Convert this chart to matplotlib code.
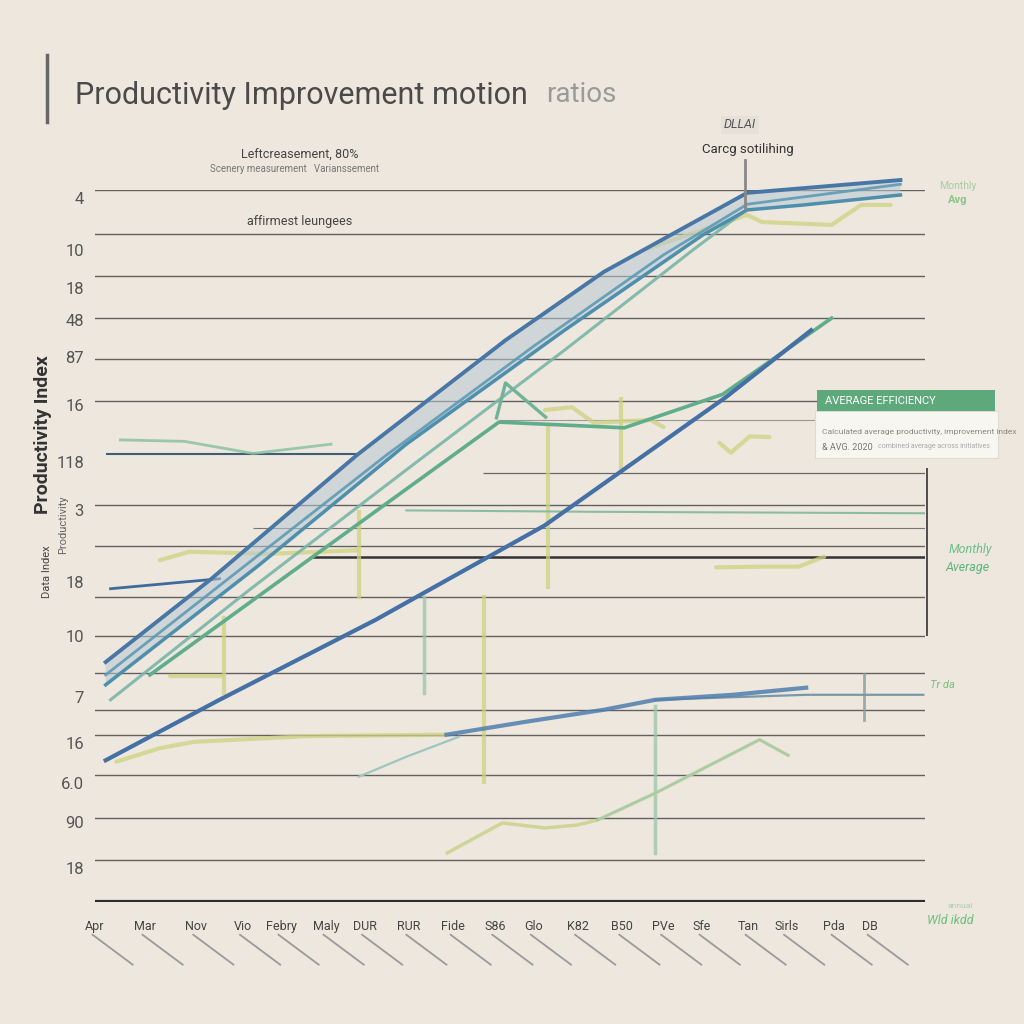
import matplotlib
matplotlib.use("Agg")
import matplotlib.pyplot as plt
from matplotlib import font_manager as fm
from matplotlib.patches import Rectangle

names = {f.name for f in fm.fontManager.ttflist}
NARROW = "Liberation Sans Narrow" if "Liberation Sans Narrow" in names else "Roboto"
plt.rcParams["font.family"] = [NARROW, "DejaVu Sans"]

# ---------------- data ----------------
title_main = "Productivity Improvement motion"
title_tail = "ratios"

x_labels = ["Apr", "Mar", "Nov", "Vio", "Febry", "Maly", "DUR", "RUR", "Fide", "S86",
            "Glo", "K82", "B50", "PVe", "Sfe", "Tan", "Sirls", "Pda", "DB"]
x_pos = [-1.3, 4.8, 11.0, 16.7, 21.4, 26.9, 31.6, 37.0, 42.4, 47.5,
         52.2, 57.6, 63.0, 68.1, 72.8, 78.4, 83.1, 88.9, 93.3]

y_labels = ["4", "10", "18", "48", "87", "16", "118", "3", "18", "10", "7", "16", "6.0", "90", "18"]
y_pos = [98.9, 91.6, 86.2, 81.7, 76.5, 69.8, 61.8, 55.1, 44.9, 37.4, 28.8, 22.3, 16.7, 11.2, 4.8]

grid_levels = [100, 93.8, 87.9, 82.0, 76.3, 70.4, 55.8, 50.0, 42.8, 37.4, 32.2, 27.0, 23.5, 17.8, 11.8, 5.9]

# band of main trend lines
band_top_x = [0, 12.7, 30.7, 48.8, 60.8, 78.3, 97.0]
band_top_y = [33.7, 45.2, 62.8, 78.9, 88.5, 99.6, 101.4]
band_low_x = [0, 18.7, 36.7, 56.0, 72.9, 78.3, 85.2, 97.0]
band_low_y = [30.5, 47.3, 64.3, 80.3, 93.7, 97.2, 97.9, 99.3]
mid1_x = [0, 16.3, 34.3, 52.4, 68.1, 78.3, 97.0]
mid1_y = [31.9, 46.6, 62.8, 78.2, 90.9, 98.0, 100.8]
mid2_x = [0.6, 17.5, 36.7, 56.0, 71.7, 78.3]
mid2_y = [28.4, 43.8, 60.7, 77.5, 91.6, 97.3]

yellow_top_x = [65.7, 78.3, 80.1, 88.6, 92.2, 95.8]
yellow_top_y = [91.6, 96.5, 95.5, 95.1, 97.9, 97.9]

hump_x = [5.4, 24.7, 48.0, 63.3, 75.3, 88.6]
hump_y = [31.9, 48.0, 67.4, 66.6, 71.3, 82.0]
peak_x = [47.7, 48.8, 53.7]
peak_y = [68.0, 72.9, 68.1]

lower_x = [0, 13.9, 32.9, 53.6, 75.7, 86.1]
lower_y = [19.9, 28.4, 39.6, 52.9, 70.9, 80.3]

flat_green_x = [1.8, 9.6, 18.0, 27.5]
flat_green_y = [64.9, 64.7, 63.0, 64.3]
short_blue_x = [0.6, 13.9]
short_blue_y = [44.0, 45.4]

mid_line_x = [36.7, 60.2, 100]
mid_line_y = [55.0, 54.8, 54.6]

low_blue_x = [41.6, 51.2, 60.8, 67.1, 76.5, 85.5]
low_blue_y = [23.5, 25.3, 27.0, 28.4, 29.1, 30.1]
low_gray_x = [67.1, 85.5, 99.8]
low_gray_y = [28.4, 29.1, 29.1]
low_teal_x = [30.9, 36.7, 43.1]
low_teal_y = [17.6, 20.4, 23.2]

yel_left_x = [6.6, 10.2, 19.9, 30.7]
yel_left_y = [48.0, 49.2, 48.9, 49.4]
yel_low_x = [1.3, 6.6, 10.8, 24.7, 41.6]
yel_low_y = [19.7, 21.6, 22.5, 23.3, 23.5]
yel_box_x = [7.8, 14.2]
yel_box_y = [31.7, 31.7]

green_low_x = [41.7, 48.4, 53.6, 57.5, 60.0, 67.1, 79.8, 83.3]
green_low_y = [6.9, 11.1, 10.4, 10.8, 11.5, 15.3, 22.8, 20.6]

yel_wig_x = [74.9, 76.3, 78.6, 81.0]
yel_wig_y = [64.5, 63.1, 65.4, 65.3]
yel_wig2_x = [74.5, 80.1, 84.6, 87.7]
yel_wig2_y = [47.0, 47.1, 47.1, 48.5]
yel_hump_x = [53.6, 56.9, 59.6, 66.5, 68.1]
yel_hump_y = [69.1, 69.5, 67.3, 67.7, 66.7]

# vertical drop lines: x, y_from, y_to
drops_yellow = [(14.5, 29.4, 39.9), (30.9, 42.8, 54.8), (46.2, 16.9, 42.8), (54.0, 44.2, 66.7), (62.9, 60.7, 70.6)]
drops_teal = [(38.9, 29.4, 42.8), (67.1, 6.9, 27.5)]
drops_gray = [(92.6, 25.6, 32.0)]

# ---------------- figure ----------------
BG = "#ede7de"
fig = plt.figure(figsize=(10.24, 10.24), dpi=100, facecolor=BG)
ax = fig.add_axes([95 / 1024, 1 - 902 / 1024, 830 / 1024, 712 / 1024])
ax.set_facecolor("none")
ax.set_xlim(0, 100)
ax.set_ylim(0, 100)
for s in ax.spines.values():
    s.set_visible(False)

# gridlines
for g in grid_levels:
    ax.axhline(g, color="#4a4a4a", lw=1.0, alpha=0.85, zorder=1)
ax.hlines(62.9, 0, 31.0, color="#3f5d78", lw=1.5, zorder=1)
ax.hlines(60.3, 46.0, 100, color="#6a6a6a", lw=0.9, zorder=1)
ax.hlines(67.7, 48.0, 90.0, color="#9a9a9a", lw=0.8, zorder=1)
ax.hlines(52.5, 18.0, 100, color="#777", lw=0.8, zorder=1)
ax.hlines(48.5, 25.0, 100.3, color="#333", lw=1.8, zorder=1)
ax.axhline(0, color="#2e2e2e", lw=3.0, zorder=2, xmax=1.006)
ax.vlines(100.2, 37.4, 60.9, color="#333", lw=1.2, clip_on=False)

# yellow & faint lines
yc = "#cfd27e"
for xs, ys in [(yellow_top_x, yellow_top_y), (yel_left_x, yel_left_y), (yel_low_x, yel_low_y),
               (yel_box_x, yel_box_y), (yel_wig_x, yel_wig_y), (yel_wig2_x, yel_wig2_y),
               (yel_hump_x, yel_hump_y)]:
    ax.plot(xs, ys, color=yc, lw=3, alpha=0.75, solid_capstyle="round", clip_on=False, zorder=3)
for x, a, b in drops_yellow:
    ax.plot([x, x], [a, b], color=yc, lw=3, alpha=0.75, zorder=3)
for x, a, b in drops_teal:
    ax.plot([x, x], [a, b], color="#9cc8a8", lw=2.5, alpha=0.8, zorder=3)
for x, a, b in drops_gray:
    ax.plot([x, x], [a, b], color="#8a9aa0", lw=2, alpha=0.8, zorder=3)

ax.plot(flat_green_x, flat_green_y, color="#8cc2a0", lw=2, alpha=0.85, zorder=3)
ax.plot(mid_line_x, mid_line_y, color="#7fb99a", lw=1.5, alpha=0.9, zorder=3)
ax.plot(short_blue_x, short_blue_y, color="#3d6c9a", lw=2, zorder=4)
ax.plot(green_low_x, green_low_y, color="#c9d38a", lw=2.5, alpha=0.85, zorder=3)
ax.plot(green_low_x[4:], green_low_y[4:], color="#9fcab5", lw=1.5, alpha=0.9, zorder=3)

# lower lines
ax.plot(low_gray_x, low_gray_y, color="#7a98a8", lw=1.6, zorder=4)
ax.plot(low_blue_x, low_blue_y, color="#4f7fae", lw=3, alpha=0.85, zorder=4)
ax.plot(low_teal_x, low_teal_y, color="#9cc7c0", lw=1.6, zorder=4)

# main band
ax.fill(band_top_x + band_low_x[::-1], band_top_y + band_low_y[::-1],
        color="#b9c9d2", alpha=0.55, lw=0, zorder=4, clip_on=False)
ax.plot(mid2_x, mid2_y, color="#79b6a8", lw=2.2, alpha=0.9, clip_on=False, zorder=5)
ax.plot(mid1_x, mid1_y, color="#5c9bb4", lw=2.0, alpha=0.9, clip_on=False, zorder=5)
ax.plot(band_low_x, band_low_y, color="#4d8fac", lw=2.5, clip_on=False, zorder=5)
ax.plot(band_top_x, band_top_y, color="#4877a6", lw=2.8, clip_on=False, zorder=6)

# green hump line
ax.plot(hump_x, hump_y, color="#5fad8a", lw=2.6, zorder=5)
ax.plot(peak_x, peak_y, color="#6fb595", lw=2.4, zorder=5)

# lower blue trend
ax.plot(lower_x, lower_y, color="#4470a6", lw=3, zorder=6)

# ticks
ax.set_yticks(y_pos, y_labels)
ax.tick_params(axis="y", length=0, pad=8, labelsize=12, labelcolor="#555")
ax.set_xticks(x_pos, x_labels)
ax.tick_params(axis="x", length=0, pad=13, labelsize=9, labelcolor="#444")
for xp in x_pos:
    ax.plot([xp - 0.3, xp + 4.6], [-4.6, -8.8], color="#9a9a9a", lw=1.3, clip_on=False)

# y axis labels
fig.text(43 / 1024, 1 - 435 / 1024, "Productivity Index", rotation=90, ha="center", va="center",
         fontsize=14, color="#333", fontweight="bold")
fig.text(47 / 1024, 1 - 572 / 1024, "Data Index", rotation=90, ha="center", va="center",
         fontsize=8, color="#444")
fig.text(63 / 1024, 1 - 525 / 1024, "Productivity", rotation=90, ha="center", va="center",
         fontsize=8, color="#666")

# title
fig.add_artist(plt.Line2D([47 / 1024, 47 / 1024], [1 - 55 / 1024, 1 - 122 / 1024],
                          color="#666", lw=2.5))
fig.text(75 / 1024, 1 - 95 / 1024, title_main, ha="left", va="center", fontsize=22, color="#4a4a4a")
fig.text(546 / 1024, 1 - 95 / 1024, title_tail, ha="left", va="center", fontsize=20, color="#9a9a9a")

# annotations top-left
fig.text(300 / 1024, 1 - 155 / 1024, "Leftcreasement, 80%", ha="center", va="center", fontsize=9, color="#444")
fig.text(295 / 1024, 1 - 169 / 1024, "Scenery measurement   Varianssement", ha="center", va="center",
         fontsize=7, color="#777")
fig.text(300 / 1024, 1 - 221 / 1024, "affirmest leungees", ha="center", va="center", fontsize=9, color="#444")

# annotation top-right
fig.text(740 / 1024, 1 - 125 / 1024, "DLLAI", ha="center", va="center", fontsize=9, color="#555",
         style="italic", bbox=dict(boxstyle="square,pad=0.2", fc="#e6e1d8", ec="none"))
fig.text(748 / 1024, 1 - 149 / 1024, "Carcg sotilihing", ha="center", va="center", fontsize=9.5, color="#333")
fig.add_artist(plt.Line2D([745 / 1024, 745 / 1024], [1 - 160 / 1024, 1 - 208 / 1024], color="#888", lw=2))

# right-side labels
fig.text(958 / 1024, 1 - 186 / 1024, "Monthly", ha="center", va="center", fontsize=7.5, color="#a6cf9e")
fig.text(958 / 1024, 1 - 200 / 1024, "Avg", ha="center", va="center", fontsize=8, color="#8cc685",
         fontweight="bold")
fig.text(970 / 1024, 1 - 550 / 1024, "Monthly", ha="center", va="center", fontsize=9, color="#6cbf86",
         style="italic")
fig.text(968 / 1024, 1 - 567 / 1024, "Average", ha="center", va="center", fontsize=9, color="#5db47a",
         style="italic")
fig.text(942 / 1024, 1 - 685 / 1024, "Tr da", ha="center", va="center", fontsize=8, color="#7fbf7a",
         style="italic")
fig.text(950 / 1024, 1 - 921 / 1024, "Wld ikdd", ha="center", va="center", fontsize=9, color="#6cc07a",
         style="italic")
fig.text(960 / 1024, 1 - 906 / 1024, "annual", ha="center", va="center", fontsize=6, color="#a9cfa6")

# legend box
fig.add_artist(Rectangle((815 / 1024, 1 - 458 / 1024), 183 / 1024, 47 / 1024,
                         transform=fig.transFigure, fc="#f8f6f1", ec="#dedbd4", lw=0.8))
fig.add_artist(Rectangle((817 / 1024, 1 - 411 / 1024), 178 / 1024, 21 / 1024,
                         transform=fig.transFigure, fc="#5ea97b", ec="none"))
fig.text(880 / 1024, 1 - 401 / 1024, "AVERAGE EFFICIENCY", ha="center", va="center", fontsize=8, color="white")
fig.text(822 / 1024, 1 - 432 / 1024, "Calculated average productivity, improvement index", ha="left",
         va="center", fontsize=6.1, color="#888")
fig.text(822 / 1024, 1 - 447 / 1024, "& AVG. 2020", ha="left", va="center", fontsize=6.5, color="#777")
fig.text(878 / 1024, 1 - 447 / 1024, "combined average across initiatives", ha="left", va="center",
         fontsize=5, color="#aaa")

fig.savefig("out.png", dpi=100, facecolor=BG)
